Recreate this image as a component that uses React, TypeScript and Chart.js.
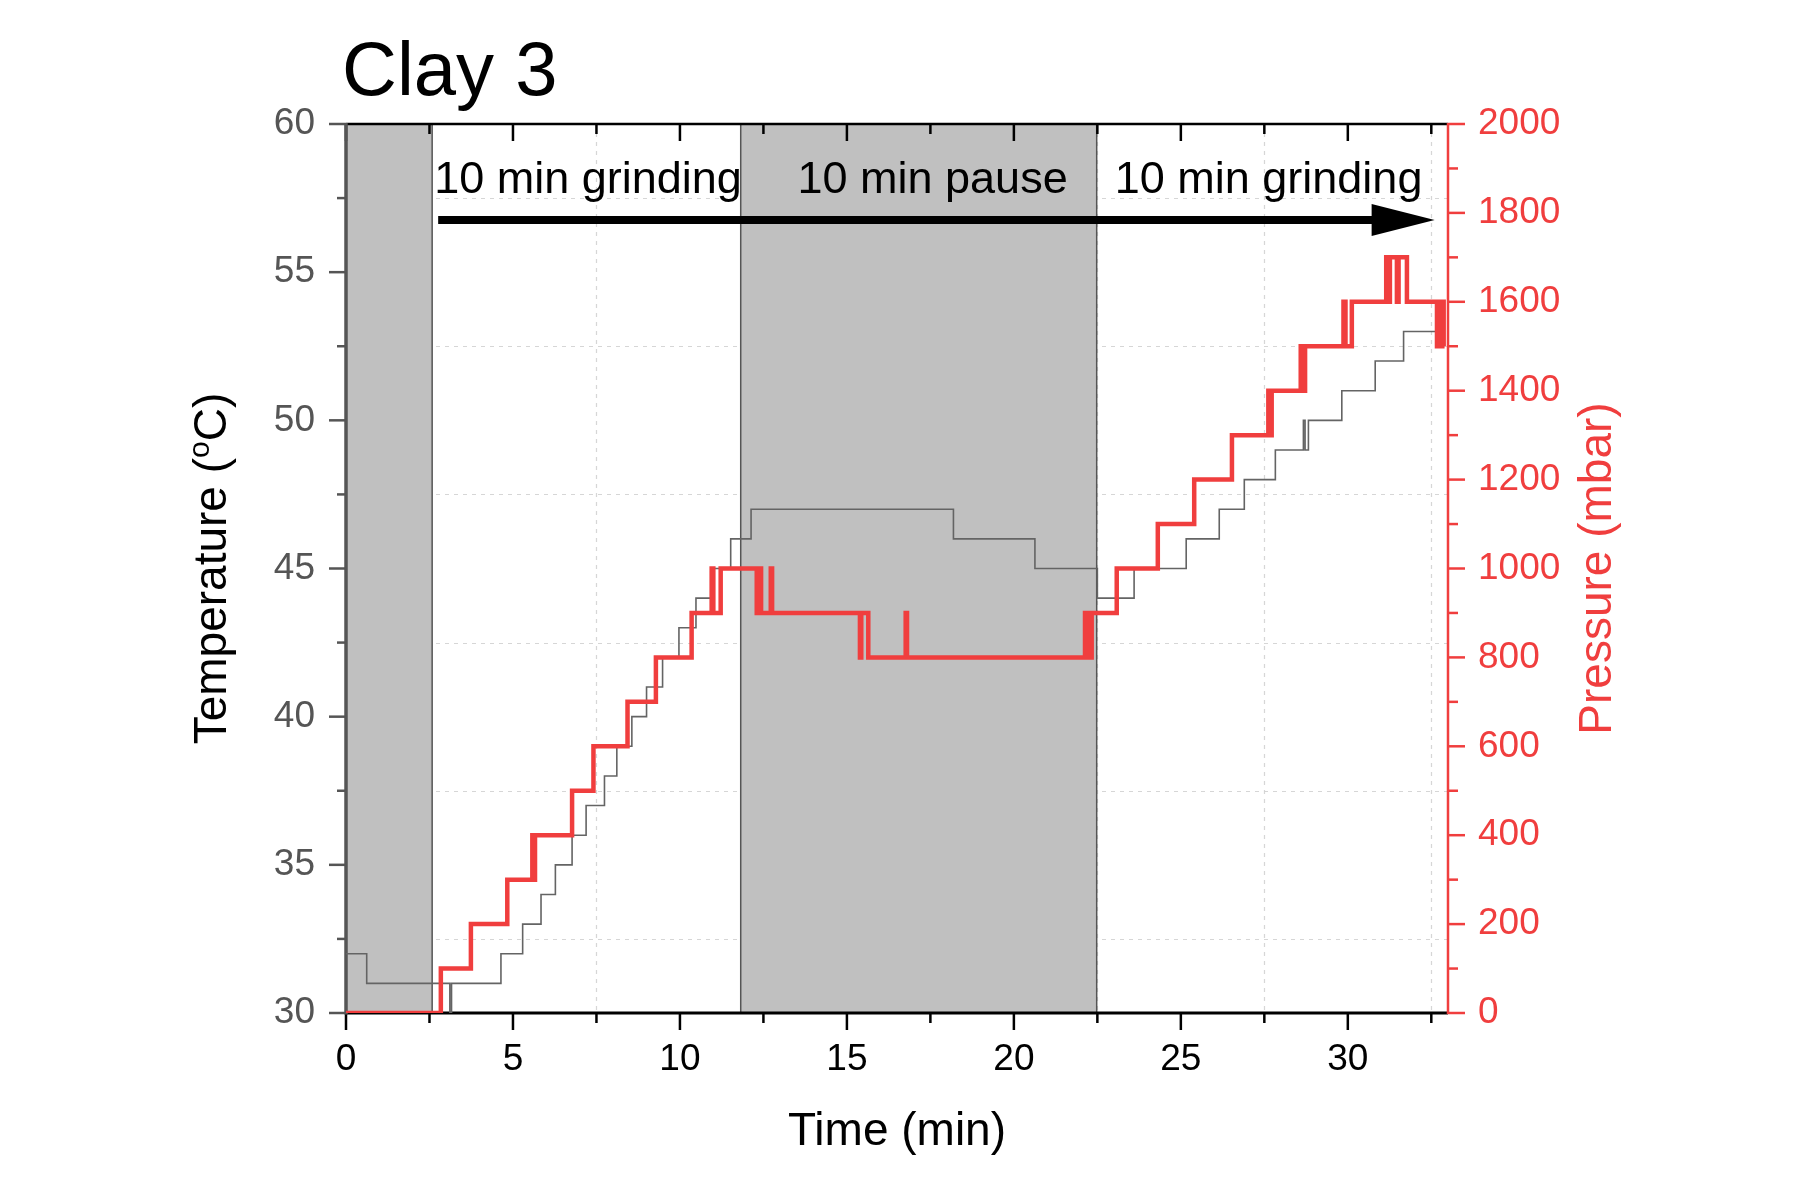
import React, { useEffect, useRef } from 'react';
import { Chart, registerables } from 'chart.js';

Chart.register(...registerables);

// ---- data (time in min, temperature in °C, pressure in mbar) ----
const tempTime = [0, 0.62, 3.11, 3.16, 4.64, 5.29, 5.84, 6.27, 6.77, 7.19, 7.74, 8.11, 8.56, 9.0, 9.48, 9.97, 10.48, 10.95, 11.52, 12.13, 18.19, 20.63, 22.5, 23.6, 25.16, 26.15, 26.9, 27.83, 28.67, 28.72, 28.82, 29.82, 30.82, 31.67, 32.67];
const tempValue = [32, 31, 30, 31, 32, 33, 34, 35, 36, 37, 38, 39, 40, 41, 42, 43, 44, 45, 46, 47, 46, 45, 44, 45, 46, 47, 48, 49, 50, 49, 50, 51, 52, 53, 53];

const pressTime = [0, 2.84, 3.74, 4.83, 5.58, 5.62, 5.66, 6.77, 7.41, 8.43, 9.28, 10.35, 10.95, 11.0, 11.22, 12.3, 12.36, 12.43, 12.72, 12.76, 15.39, 15.43, 15.64, 16.76, 16.8, 22.13, 22.2, 22.27, 22.3, 22.33, 23.08, 24.31, 25.4, 26.53, 27.62, 27.67, 27.72, 28.59, 28.65, 28.72, 29.87, 29.93, 30.12, 31.15, 31.2, 31.26, 31.47, 31.52, 31.77, 32.67, 32.72, 32.78, 32.83, 32.87, 32.88];
const pressValue = [0, 100, 200, 300, 400, 300, 400, 500, 600, 700, 800, 900, 1000, 900, 1000, 900, 1000, 900, 1000, 900, 800, 900, 800, 900, 800, 900, 800, 900, 800, 900, 1000, 1100, 1200, 1300, 1400, 1300, 1400, 1500, 1400, 1500, 1600, 1500, 1600, 1700, 1600, 1700, 1600, 1700, 1600, 1500, 1600, 1500, 1600, 1500, 1500];

// shaded (pause) bands, in minutes
const bandStart = [0, 11.82];
const bandEnd = [2.58, 22.48];

// phase labels (start time in min, placed at a temperature level)
const phaseLabels = ['10 min grinding', '10 min pause', '10 min grinding'];
const phaseLabelStart = [2.64, 13.52, 23.02];
const phaseLabelTemp = 57.67;

// arrow across the run
const arrowStart = 2.76;
const arrowEnd = 32.6;
const arrowTemp = 56.76;

// axes
const xMin = 0, xMax = 33, xStep = 5;
const tMin = 30, tMax = 60, tStep = 5;
const pMin = 0, pMax = 2000, pStep = 200;

const FONT = "'Liberation Sans', Arial, Helvetica, sans-serif";
const RED = 'rgb(240, 62, 62)';
const AXIS_GRAY = '#555555';

const decorPlugin = {
  id: 'decor',
  beforeDatasetsDraw(chart: any) {
    const { ctx, chartArea: a, scales } = chart;
    const x = scales.x, y = scales.y, y1 = scales.y1;
    ctx.save();

    // dashed grid at minor ticks
    ctx.strokeStyle = 'rgba(210,210,210,0.9)';
    ctx.lineWidth = 1.2;
    ctx.setLineDash([4, 5]);
    for (let v = xMin + xStep / 2; v < xMax; v += xStep) {
      const px = Math.round(x.getPixelForValue(v)) + 0.5;
      ctx.beginPath(); ctx.moveTo(px, a.top); ctx.lineTo(px, a.bottom); ctx.stroke();
    }
    for (let v = tMin + tStep / 2; v < tMax; v += tStep) {
      const py = Math.round(y.getPixelForValue(v)) + 0.5;
      ctx.beginPath(); ctx.moveTo(a.left, py); ctx.lineTo(a.right, py); ctx.stroke();
    }
    ctx.setLineDash([]);

    // gray bands
    bandStart.forEach((s, i) => {
      const l = x.getPixelForValue(s);
      const r = x.getPixelForValue(bandEnd[i]);
      ctx.fillStyle = '#c0c0c0';
      ctx.fillRect(l, a.top, r - l, a.bottom - a.top);
      ctx.strokeStyle = '#555';
      ctx.lineWidth = 1.5;
      [l, r].forEach((p) => {
        ctx.beginPath(); ctx.moveTo(p, a.top); ctx.lineTo(p, a.bottom); ctx.stroke();
      });
    });

    // ticks
    const seg = (x1: number, y1p: number, x2: number, y2: number) => {
      ctx.beginPath(); ctx.moveTo(x1, y1p); ctx.lineTo(x2, y2); ctx.stroke();
    };
    ctx.lineWidth = 2.5;
    // bottom & top
    ctx.strokeStyle = '#000';
    for (let v = xMin; v <= xMax + 1e-9; v += xStep / 2) {
      const major = Math.abs(v / xStep - Math.round(v / xStep)) < 1e-6;
      const len = major ? 17 : 10;
      const px = x.getPixelForValue(v);
      seg(px, a.bottom, px, a.bottom + len);
      seg(px, a.top, px, a.top + len);
    }
    // left
    ctx.strokeStyle = AXIS_GRAY;
    for (let v = tMin; v <= tMax + 1e-9; v += tStep / 2) {
      const major = Math.abs(v / tStep - Math.round(v / tStep)) < 1e-6;
      const len = major ? 17 : 9;
      const py = y.getPixelForValue(v);
      seg(a.left - len, py, a.left, py);
    }
    // right
    ctx.strokeStyle = RED;
    for (let v = pMin; v <= pMax + 1e-9; v += pStep / 2) {
      const major = Math.abs(v / pStep - Math.round(v / pStep)) < 1e-6;
      const len = major ? 17 : 10;
      const py = y1.getPixelForValue(v);
      seg(a.right, py, a.right + len, py);
    }

    // axis lines
    ctx.lineWidth = 2.5;
    ctx.strokeStyle = '#000';
    seg(a.left, a.top, a.right, a.top);
    ctx.lineWidth = 3;
    seg(a.left - 1, a.bottom, a.right, a.bottom);
    ctx.strokeStyle = RED;
    ctx.lineWidth = 2.5;
    seg(a.right, a.top - 1, a.right, a.bottom + 1);
    ctx.strokeStyle = AXIS_GRAY;
    ctx.lineWidth = 3.5;
    seg(a.left, a.top - 1, a.left, a.bottom + 1.5);

    ctx.restore();
  },
  afterDatasetsDraw(chart: any) {
    const { ctx, chartArea: a, scales } = chart;
    const x = scales.x, y = scales.y;
    ctx.save();

    // arrow
    const ay = y.getPixelForValue(arrowTemp);
    const ax0 = x.getPixelForValue(arrowStart);
    const ax1 = x.getPixelForValue(arrowEnd);
    const headLen = 63, headHalf = 16;
    ctx.strokeStyle = '#000';
    ctx.lineWidth = 8;
    ctx.beginPath(); ctx.moveTo(ax0, ay); ctx.lineTo(ax1 - headLen + 4, ay); ctx.stroke();
    ctx.fillStyle = '#000';
    ctx.beginPath();
    ctx.moveTo(ax1, ay);
    ctx.lineTo(ax1 - headLen, ay - headHalf);
    ctx.lineTo(ax1 - headLen, ay + headHalf);
    ctx.closePath();
    ctx.fill();

    // phase labels
    ctx.font = `45px ${FONT}`;
    ctx.textAlign = 'left';
    ctx.textBaseline = 'alphabetic';
    ctx.fillStyle = '#000';
    const ly = y.getPixelForValue(phaseLabelTemp);
    phaseLabels.forEach((t, i) => ctx.fillText(t, x.getPixelForValue(phaseLabelStart[i]), ly));

    // title
    ctx.font = `76px ${FONT}`;
    ctx.fillText('Clay 3', a.left - 4, 95);

    // x axis title
    ctx.font = `46px ${FONT}`;
    ctx.textAlign = 'center';
    ctx.fillText('Time (min)', (a.left + a.right) / 2, 1145);

    const midY = (a.top + a.bottom) / 2;
    // left axis title with superscript o
    ctx.save();
    ctx.translate(226, midY);
    ctx.rotate(-Math.PI / 2);
    ctx.textAlign = 'left';
    const mainFont = `46px ${FONT}`;
    const supFont = `30px ${FONT}`;
    ctx.font = mainFont;
    const w1 = ctx.measureText('Temperature (').width;
    const w3 = ctx.measureText('C)').width;
    ctx.font = supFont;
    const w2 = ctx.measureText('o').width;
    const total = w1 + w2 + w3;
    let cx = -total / 2;
    ctx.fillStyle = '#000';
    ctx.font = mainFont;
    ctx.fillText('Temperature (', cx, 0);
    cx += w1;
    ctx.font = supFont;
    ctx.fillText('o', cx, -17);
    cx += w2;
    ctx.font = mainFont;
    ctx.fillText('C)', cx, 0);
    ctx.restore();

    // right axis title
    ctx.save();
    ctx.translate(1611, midY);
    ctx.rotate(-Math.PI / 2);
    ctx.textAlign = 'center';
    ctx.font = mainFont;
    ctx.fillStyle = RED;
    ctx.fillText('Pressure (mbar)', 0, 0);
    ctx.restore();

    ctx.restore();
  },
};

export default function App() {
  const ref = useRef<HTMLCanvasElement | null>(null);

  useEffect(() => {
    if (!ref.current) return;
    const tickFont = { family: FONT, size: 37 };
    const plain = (v: any) => String(v);
    const chart = new Chart(ref.current, {
      type: 'line',
      data: {
        datasets: [
          {
            label: 'Pressure (mbar)',
            data: pressTime.map((t, i) => ({ x: t, y: pressValue[i] })),
            yAxisID: 'y1',
            xAxisID: 'x',
            stepped: 'before',
            borderColor: RED,
            borderWidth: 4.5,
            pointRadius: 0,
            fill: false,
            tension: 0,
            borderJoinStyle: 'miter',
          },
          {
            label: 'Temperature (°C)',
            data: tempTime.map((t, i) => ({ x: t, y: tempValue[i] })),
            yAxisID: 'y',
            xAxisID: 'x',
            stepped: 'before',
            borderColor: 'rgb(100,100,100)',
            borderWidth: 1.6,
            pointRadius: 0,
            fill: false,
            tension: 0,
          },
        ],
      },
      options: {
        animation: false,
        responsive: false,
        devicePixelRatio: 1,
        events: [],
        layout: { padding: { top: 124, left: 0, right: 0, bottom: 0 } },
        plugins: {
          legend: { display: false },
          tooltip: { enabled: false },
          title: { display: false },
        },
        scales: {
          x: {
            type: 'linear',
            position: 'bottom',
            min: xMin,
            max: xMax,
            afterFit: (s: any) => { s.height = 187; },
            grid: { display: false, drawTicks: false },
            border: { display: false },
            ticks: { stepSize: xStep, includeBounds: false, padding: 25, color: '#000', font: tickFont, maxRotation: 0, autoSkip: false, callback: plain },
          },
          y: {
            type: 'linear',
            position: 'left',
            min: tMin,
            max: tMax,
            afterFit: (s: any) => { s.width = 346; },
            grid: { display: false, drawTicks: false },
            border: { display: false },
            ticks: { stepSize: tStep, padding: 31, color: AXIS_GRAY, font: tickFont, autoSkip: false, callback: plain },
          },
          y1: {
            type: 'linear',
            position: 'right',
            min: pMin,
            max: pMax,
            afterFit: (s: any) => { s.width = 352; },
            grid: { display: false, drawTicks: false },
            border: { display: false },
            ticks: { stepSize: pStep, padding: 30, color: RED, font: tickFont, autoSkip: false, callback: plain },
          },
        },
      } as any,
      plugins: [decorPlugin],
    });
    return () => chart.destroy();
  }, []);

  return (
    <div style={{ position: 'fixed', left: 0, top: 0, width: 1800, height: 1200, background: '#fff' }}>
      <canvas ref={ref} width={1800} height={1200} style={{ display: 'block', width: 1800, height: 1200 }} />
    </div>
  );
}
